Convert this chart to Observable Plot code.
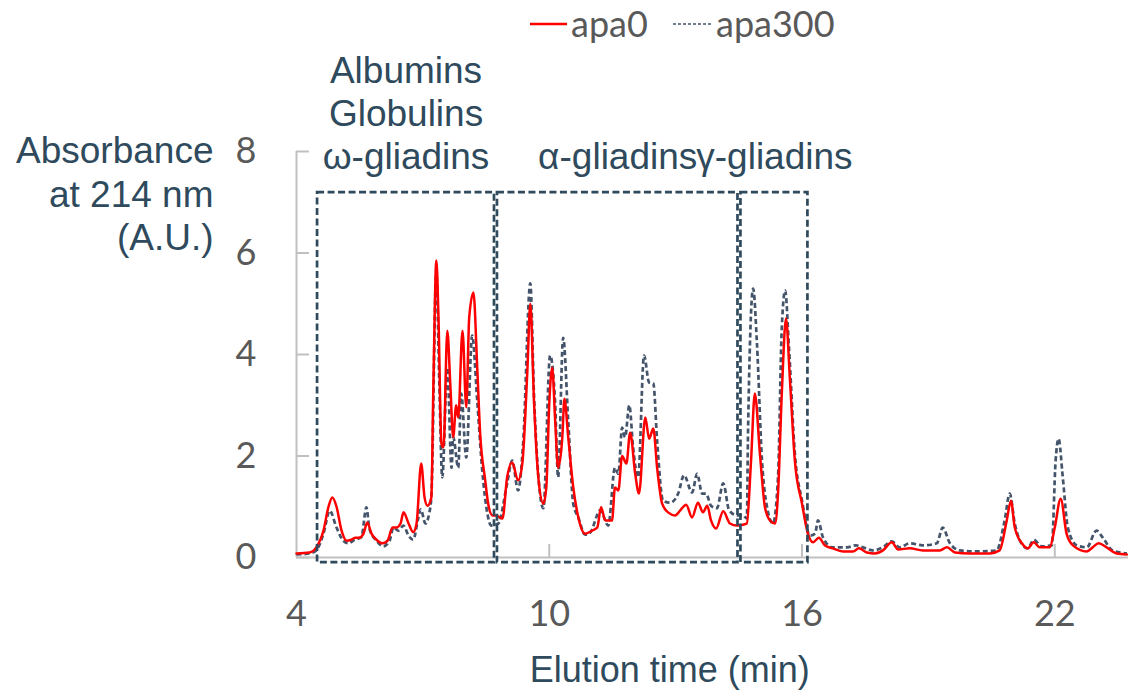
<!DOCTYPE html>
<html><head><meta charset="utf-8">
<script src="https://cdn.jsdelivr.net/npm/d3@7"></script>
<script src="https://cdn.jsdelivr.net/npm/@observablehq/plot@0.6"></script>
<style>body{margin:0;background:#fff}#chart{width:1128px;height:694px}</style>
</head><body><div id="chart"></div>
<script>
const seriesNames = ["apa0", "apa300"];
const apa0Time = [4.00,4.31,4.47,4.64,4.76,4.85,4.95,5.07,5.19,5.30,5.40,5.49,5.59,5.68,5.78,5.90,6.04,6.16,6.28,6.37,6.47,6.54,6.66,6.77,6.85,6.96,7.04,7.11,7.20,7.25,7.32,7.37,7.44,7.49,7.58,7.65,7.72,7.79,7.84,7.94,8.03,8.10,8.20,8.29,8.36,8.48,8.55,8.65,8.72,8.89,9.00,9.12,9.26,9.36,9.48,9.55,9.64,9.74,9.86,9.93,10.00,10.07,10.14,10.21,10.31,10.36,10.45,10.57,10.69,10.85,11.02,11.14,11.23,11.33,11.49,11.56,11.64,11.73,11.83,11.92,12.04,12.13,12.28,12.37,12.47,12.56,12.68,12.82,12.99,13.11,13.25,13.39,13.53,13.65,13.75,13.84,13.96,14.13,14.29,14.46,14.62,14.69,14.79,14.88,15.00,15.12,15.24,15.36,15.43,15.52,15.62,15.71,15.83,16.00,16.14,16.26,16.40,16.54,16.73,16.97,17.21,17.35,17.54,17.73,17.92,18.13,18.28,18.56,18.87,19.27,19.44,19.63,19.98,20.46,20.69,20.86,20.96,21.05,21.22,21.36,21.50,21.64,21.88,22.00,22.14,22.28,22.43,22.76,22.90,23.04,23.23,23.47,23.71];
const apa0Abs = [0.08,0.10,0.20,0.53,1.00,1.18,1.00,0.53,0.33,0.35,0.39,0.39,0.47,0.69,0.47,0.35,0.28,0.33,0.59,0.59,0.67,0.89,0.67,0.50,0.67,1.85,1.18,1.02,1.18,3.43,5.85,4.73,2.25,2.17,4.47,3.43,2.37,3.00,2.76,4.47,2.96,4.73,5.22,3.74,2.44,1.52,1.06,0.83,0.83,0.77,1.58,1.87,1.52,1.85,3.68,5.00,3.03,1.58,1.06,1.38,3.03,3.74,2.70,1.77,2.37,3.13,2.37,1.38,0.79,0.47,0.53,0.59,0.99,0.73,0.73,1.38,1.32,2.00,1.85,2.46,1.65,1.26,2.76,2.34,2.54,1.77,1.06,0.89,0.83,0.93,1.04,0.79,1.08,0.89,1.02,0.73,0.57,0.91,0.67,0.63,0.65,0.67,1.91,3.23,2.05,0.99,0.73,0.67,1.26,3.23,4.71,3.55,1.91,1.06,0.47,0.30,0.39,0.24,0.18,0.12,0.12,0.18,0.10,0.08,0.14,0.30,0.16,0.18,0.14,0.14,0.20,0.10,0.08,0.08,0.14,0.73,1.12,0.59,0.28,0.18,0.30,0.20,0.20,0.59,1.16,0.47,0.24,0.12,0.20,0.28,0.20,0.08,0.06];
const apa300Time = [4.00,4.31,4.47,4.64,4.79,4.95,5.11,5.23,5.38,5.54,5.66,5.73,5.90,6.06,6.21,6.30,6.42,6.54,6.66,6.77,6.89,6.95,7.06,7.15,7.20,7.32,7.39,7.46,7.58,7.68,7.72,7.84,7.91,8.03,8.17,8.29,8.41,8.53,8.62,8.79,9.00,9.12,9.26,9.38,9.55,9.64,9.86,10.02,10.14,10.21,10.33,10.45,10.57,10.69,10.85,10.97,11.21,11.40,11.56,11.64,11.73,11.80,11.90,11.99,12.11,12.25,12.37,12.47,12.56,12.70,12.87,13.06,13.20,13.39,13.51,13.63,13.72,13.84,13.98,14.13,14.27,14.46,14.60,14.69,14.72,14.84,14.93,15.05,15.17,15.31,15.43,15.52,15.60,15.69,15.83,16.00,16.19,16.31,16.38,16.50,16.73,17.07,17.28,17.45,17.68,17.92,18.13,18.32,18.56,18.87,19.20,19.34,19.51,19.75,20.15,20.62,20.81,20.93,21.05,21.24,21.36,21.50,21.69,21.93,22.02,22.09,22.19,22.31,22.52,22.76,22.99,23.14,23.37,23.71];
const apa300Abs = [0.06,0.08,0.14,0.47,0.92,0.59,0.33,0.28,0.35,0.40,0.99,0.57,0.33,0.22,0.33,0.59,0.53,0.63,0.43,0.35,0.77,0.95,0.67,0.87,1.18,5.65,3.43,1.58,3.74,1.77,2.37,1.77,3.23,1.97,4.37,3.09,1.71,0.87,0.63,0.67,1.46,1.91,1.32,2.25,5.40,3.15,0.97,3.98,3.03,1.58,4.33,2.70,1.06,0.79,0.45,0.49,0.93,0.63,1.77,1.65,2.56,2.37,3.00,2.17,1.58,3.98,3.45,3.43,2.31,1.12,1.08,1.26,1.62,1.28,1.65,1.26,1.26,1.02,0.97,1.46,0.93,0.83,0.83,0.77,2.56,5.30,4.22,1.91,0.99,0.67,1.58,4.53,5.26,4.14,2.05,1.12,0.43,0.47,0.73,0.39,0.20,0.20,0.24,0.20,0.14,0.20,0.32,0.20,0.28,0.24,0.28,0.59,0.28,0.14,0.12,0.14,0.73,1.26,0.67,0.24,0.18,0.35,0.22,0.24,1.91,2.34,1.58,0.59,0.24,0.20,0.53,0.39,0.14,0.08];
const xTicks = [4, 10, 16, 22];
const xTickMarks = [10, 16, 22];
const yTicks = [0, 2, 4, 6, 8];
const regionLabels = ["Albumins\nGlobulins\nω-gliadins", "α-gliadins", "γ-gliadins"];
const regionStart = [4.50, 8.77, 14.55];
const regionEnd = [8.70, 14.48, 16.14];
const regionTop = [7.19, 7.19, 7.19];
const regionBottom = [-0.10, -0.10, -0.10];
const xTitle = "Elution time (min)";
const yTitle = "Absorbance\nat 214 nm\n(A.U.)";

const rows0 = apa0Time.map((t, i) => ({t, a: apa0Abs[i]}));
const rows300 = apa300Time.map((t, i) => ({t, a: apa300Abs[i]}));
const regions = regionLabels.map((label, i) => ({label, start: regionStart[i], end: regionEnd[i], top: regionTop[i], bottom: regionBottom[i]}));

const slate = "#2e4a5c";
const sans = "'Liberation Sans', Arial, sans-serif";
const axisGrey = "#c0c0c0";
const fmt = d => String(d);

const svg = Plot.plot({
  width: 1128, height: 694,
  marginLeft: 296, marginRight: 0, marginTop: 151, marginBottom: 137,
  x: {domain: [4, 23.75]},
  y: {domain: [0, 8]},
  style: {fontFamily: "Lato, sans-serif", background: "white", overflow: "visible"},
  marks: [
    Plot.ruleY([0], {stroke: axisGrey, strokeWidth: 2}),
    Plot.ruleX([4], {stroke: axisGrey, strokeWidth: 2}),
    Plot.axisY(yTicks, {tickSize: 13, dx: 13, fill: null, stroke: axisGrey, strokeWidth: 2, label: null}),
    Plot.axisX(xTickMarks, {tickSize: 13, dy: -13, fill: null, stroke: axisGrey, strokeWidth: 2, label: null}),
    Plot.axisY(yTicks, {tickSize: 0, tickPadding: 40, tickFormat: fmt, fontSize: 36, fill: "#595959", label: null}),
    Plot.axisX(xTicks, {tickSize: 0, tickPadding: 43, tickFormat: fmt, fontSize: 36, fill: "#595959", label: null}),
    Plot.line(rows300, {x: "t", y: "a", stroke: "#44546a", strokeWidth: 2.7, strokeDasharray: "5,3", strokeLinecap: "butt", curve: "monotone-x"}),
    Plot.line(rows0, {x: "t", y: "a", stroke: "#ff0000", strokeWidth: 2.5, curve: "monotone-x"}),
    Plot.rect(regions, {x1: "start", x2: "end", y1: "bottom", y2: "top", fill: "none", stroke: slate, strokeWidth: 2.7, strokeDasharray: "7,3.5"}),
    Plot.text(regions, {x: d => (d.start + d.end) / 2, y: "top", text: "label", lineAnchor: "bottom", dy: -24, lineHeight: 1.16, fontSize: 37, fontFamily: sans, fill: slate}),
    Plot.text([yTitle], {frameAnchor: "top-left", textAnchor: "end", lineAnchor: "top", dx: -83, dy: -19, lineHeight: 1.17, fontSize: 37, fontFamily: sans, fill: slate}),
    Plot.text([xTitle], {x: 12.86, frameAnchor: "bottom", lineAnchor: "bottom", dy: 124, fontSize: 36, fontFamily: sans, fill: slate})
  ]
});
document.getElementById("chart").appendChild(svg);

// legend
const lg = d3.select(svg).append("g")
  .attr("font-family", "Lato, sans-serif").attr("font-size", 36)
  .attr("fill", "#595959").attr("text-anchor", "start");
const legendItems = [
  {name: seriesNames[0], x0: 530, x1: 567, stroke: "#ff0000", w: 2.5, dash: null},
  {name: seriesNames[1], x0: 673, x1: 712, stroke: "#44546a", w: 1.6, dash: "3,2"}
];
legendItems.forEach(it => {
  lg.append("line").attr("x1", it.x0).attr("x2", it.x1).attr("y1", 24).attr("y2", 24)
    .attr("stroke", it.stroke).attr("stroke-width", it.w).attr("stroke-dasharray", it.dash);
  lg.append("text").attr("x", it.x1 + 4).attr("y", 37).attr("text-anchor", "start").text(it.name);
});
</script>
</body></html>
